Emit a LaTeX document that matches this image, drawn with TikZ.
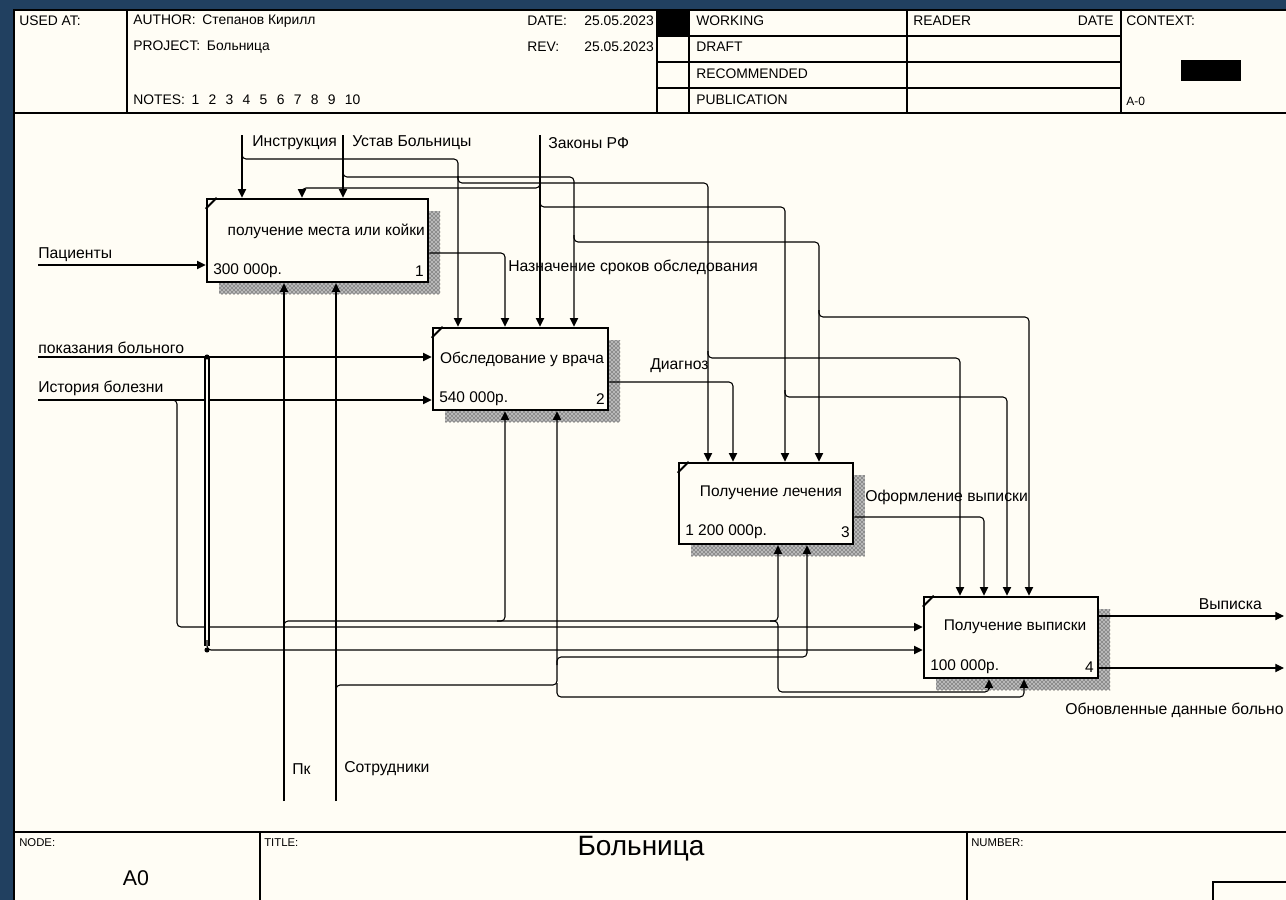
\documentclass[tikz,border=0pt]{standalone}
\usepackage{fontspec}
\setmainfont{Liberation Sans}
\usetikzlibrary{arrows.meta,calc,patterns}
\definecolor{bgblue}{RGB}{33,64,96}
\definecolor{paper}{RGB}{255,253,245}
\def\px{0.75pt}
\newcommand\ngap{\hspace{7pt}}
\begin{document}
\begin{tikzpicture}[x=0.75pt,y=-0.75pt,
  conn/.style={line width=0.8pt, rounded corners=3pt},
  arr/.style={-{Triangle[length=6.5pt,width=6.2pt]}},
  pbox/.style={draw, line width=1.9pt, fill=paper, inner sep=0, rectangle},
  shadbase/.style={fill=black!28},
  shad/.style={pattern=crosshatch dots, pattern color=black},
  lbl/.style={font=\fontsize{11.8}{13}\selectfont, inner sep=0, anchor=west},
  btxt/.style={font=\fontsize{11.6}{13}\selectfont, inner sep=0},
  hdr/.style={font=\fontsize{10.4}{12}\selectfont, inner sep=0, anchor=west},
  small/.style={font=\fontsize{8.5}{10}\selectfont, inner sep=0, anchor=west},
  hline/.style={line width=0.8pt},
  dbl/.style={double=paper, double distance=0.8pt, line width=1.5pt},
  dot/.style={circle, fill, inner sep=0, minimum size=3.8pt},
  cmark/.style={line width=1.5pt}
]
\useasboundingbox (0,0) rectangle (1286,900);
\fill[bgblue] (0,0) rectangle (1286,900);
\fill[paper] (14,10) rectangle (1295,905);

% ---------- header ----------
\draw[hline] (14,10) rectangle (1295,113);
\draw[hline] (127,10) -- (127,113);
\draw[hline] (657,10) -- (657,113);
\draw[hline] (689,10) -- (689,113);
\draw[hline] (907,10) -- (907,113);
\draw[hline] (1121,10) -- (1121,113);
\draw[hline] (657,36) -- (1121,36);
\draw[hline] (657,62) -- (1121,62);
\draw[hline] (657,88) -- (1121,88);
\fill (657,10) rectangle (689,36);
\fill (1181,60) rectangle (1241,81);

\node[hdr] (usedat) at (19,21) {USED AT:};
\node[hdr] (author) at (133,21) {AUTHOR:\hspace{5pt}Степанов Кирилл};
\node[hdr] (project) at (133,47) {PROJECT:\hspace{5pt}Больница};
\node[hdr] (notes) at (133,100) {NOTES:\hspace{5pt}1\ngap 2\ngap 3\ngap 4\ngap 5\ngap 6\ngap 7\ngap 8\ngap 9\ngap 10};
\node[hdr] (date) at (527,21) {DATE:};
\node[hdr, anchor=east] (dateval) at (654,21) {25.05.2023};
\node[hdr] (rev) at (527,47) {REV:};
\node[hdr, anchor=east] (revval) at (654,47) {25.05.2023};
\node[hdr] (working) at (696,21) {WORKING};
\node[hdr] (draft) at (696,47) {DRAFT};
\node[hdr] (recom) at (696,74) {RECOMMENDED};
\node[hdr] (publ) at (696,100) {PUBLICATION};
\node[hdr] (reader) at (913,21) {READER};
\node[hdr, anchor=east] (rdate) at (1114,21) {DATE};
\node[hdr] (context) at (1126,21) {CONTEXT:};
\node[hdr, font=\fontsize{9}{10}\selectfont] (azero) at (1126,101) {A-0};

% ---------- frame & footer ----------
\draw[hline] (14,113) -- (14,832);
\draw[hline] (14,832) rectangle (1295,905);
\draw[hline] (260,832) -- (260,905);
\draw[hline] (967,832) -- (967,905);
\draw[hline] (1213,882) rectangle (1295,905);
\node[small] (nodelbl) at (19,843) {NODE:};
\node[small] (titlelbl) at (264,843) {TITLE:};
\node[small] (numlbl) at (971,843) {NUMBER:};
\node[font=\fontsize{16}{18}\selectfont, inner sep=0] (nodeval) at (136,878) {A0};
\node[font=\fontsize{21}{24}\selectfont, inner sep=0] (title) at (641,849) {Больница};

% ---------- shadows ----------
\foreach \sa/\sb in {{219,211}/{440,294},{445,340}/{620,422},{691,475}/{865,556},{936,609}/{1110,690}}{
  \fill[shadbase] (\sa) rectangle (\sb);
  \fill[shad] (\sa) rectangle (\sb);
}

% ---------- boxes ----------
\node[pbox, minimum width=221*\px, minimum height=83*\px] (b1) at (317.5,240.5) {};
\node[pbox, minimum width=175*\px, minimum height=82*\px] (b2) at (520.5,369) {};
\node[pbox, minimum width=174*\px, minimum height=81*\px] (b3) at (766,503.5) {};
\node[pbox, minimum width=174*\px, minimum height=81*\px] (b4) at (1011,637.5) {};
\foreach \b in {b1,b2,b3,b4}{
  \draw[cmark] ($(\b.north west)+(0,11)$) -- ($(\b.north west)+(11,0)$);
}

\node[btxt, anchor=east] (b1t) at (425,231) {получение места или койки};
\node[btxt, anchor=west] (b1c) at (213,271) {300 000р.};
\node[btxt, anchor=east] (b1n) at (424,271) {1};
\node[btxt] (b2t) at (522,359) {Обследование у врача};
\node[btxt, anchor=west] (b2c) at (439,399) {540 000р.};
\node[btxt, anchor=east] (b2n) at (605,399) {2};
\node[btxt] (b3t) at (771,493) {Получение лечения};
\node[btxt, anchor=west] (b3c) at (685,532) {1 200 000р.};
\node[btxt, anchor=east] (b3n) at (850,532) {3};
\node[btxt] (b4t) at (1015,627) {Получение выписки};
\node[btxt, anchor=west] (b4c) at (930,667) {100 000р.};
\node[btxt, anchor=east] (b4n) at (1094,667) {4};

% ---------- free ends ----------
\coordinate (i0) at (242,135);
\coordinate (u0) at (343,135);
\coordinate (z0) at (540,135);
\coordinate (p0) at (38,265);
\coordinate (k0) at (38,357);
\coordinate (h0) at (38,400);
\coordinate (m1) at (284,801);
\coordinate (m2) at (336,801);
\coordinate (o1) at (1284,616);
\coordinate (o2) at (1284,668);

% ---------- labels ----------
\node[lbl] (lInstr) at (252,143) {Инструкция};
\node[lbl] (lUstav) at (352,143) {Устав Больницы};
\node[lbl] (lZak) at (548,143) {Законы РФ};
\node[lbl] (lPac) at (38,255) {Пациенты};
\node[lbl] (lPok) at (38,348) {показания больного};
\node[lbl] (lIst) at (38,388) {История болезни};
\node[lbl] (lNazn) at (508,267) {Назначение сроков обследования};
\node[lbl] (lDiag) at (650,366) {Диагноз};
\node[lbl] (lOform) at (865,497) {Оформление выписки};
\node[lbl, anchor=east] (lVyp) at (1262,604) {Выписка};
\node[lbl] (lObn) at (1065,710) {Обновленные данные больно};
\node[lbl] (lPk) at (292,769) {Пк};
\node[lbl] (lSotr) at (344,769) {Сотрудники};

% ---------- controls ----------
% Инструкция
\draw[conn,arr] (i0) -- (i0 |- b1.north);
\draw[conn,arr] (242,150) -- (242,159) -- (458,159) -- (458,0 |- b2.north);
\draw[conn,arr] (458,176) -- (458,183) -- (708,183) -- (708,0 |- b3.north);
\draw[conn,arr] (708,351) -- (708,358) -- (960,358) -- (960,0 |- b4.north);
% Устав Больницы
\draw[conn,arr] (u0) -- (u0 |- b1.north);
\draw[conn,arr] (343,170) -- (343,177) -- (574,177) -- (574,0 |- b2.north);
\draw[conn,arr] (574,235) -- (574,242) -- (819,242) -- (819,0 |- b3.north);
\draw[conn,arr] (819,310) -- (819,317) -- (1029,317) -- (1029,0 |- b4.north);
% Законы РФ
\draw[conn,arr] (z0) -- (z0 |- b2.north);
\draw[conn] (540,180) -- (540,188) -- (302,188) -- (302,192);
\draw[conn,arr] (302,189) -- (302,0 |- b1.north);
\draw[conn,arr] (540,200) -- (540,207) -- (785,207) -- (785,0 |- b3.north);
\draw[conn,arr] (785,390) -- (785,397) -- (1007,397) -- (1007,0 |- b4.north);

% ---------- outputs ----------
\draw[conn,arr] (b1.east |- 0,253) -- (505,253) -- (505,0 |- b2.north);
\draw[conn,arr] (b2.east |- 0,382) -- (733,382) -- (733,0 |- b3.north);
\draw[conn,arr] (b3.east |- 0,517) -- (984,517) -- (984,0 |- b4.north);
\draw[conn,arr] (b4.east |- 0,616) -- (o1);
\draw[conn,arr] (b4.east |- 0,668) -- (o2);

% ---------- inputs ----------
\draw[conn,arr] (p0) -- (p0 -| b1.west);
\draw[conn,arr] (k0) -- (k0 -| b2.west);
\draw[conn,arr] (h0) -- (h0 -| b2.west);
\draw[conn,arr] (170,400) -- (177,400) -- (177,627) -- (b4.west |- 0,627);
\draw[dbl] (207,357) -- (207,646);
\draw[conn,arr] (207,640) -- (207,650) -- (b4.west |- 0,650);
\node[dot] (dtop) at (207,357) {};
\node[dot] (dbot) at (207,650) {};

% ---------- mechanisms ----------
\draw[conn,arr] (m1) -- (m1 |- b1.south);
\draw[conn,arr] (m2) -- (m2 |- b1.south);
\draw[conn,arr] (284,630) -- (284,621) -- (778,621) -- (778,0 |- b3.south);
\draw[conn] (770,621) -- (778,621) -- (778,692) -- (989,692) -- (989,686);
\draw[conn,arr] (989,688) -- (989,0 |- b4.south);
\draw[conn,arr] (497,621) -- (505,621) -- (505,0 |- b2.south);
\draw[conn,arr] (336,693) -- (336,685) -- (557,685) -- (557,0 |- b2.south);
\draw[conn,arr] (557,665) -- (557,657) -- (807,657) -- (807,0 |- b3.south);
\draw[conn,arr] (557,683) -- (557,697) -- (1024,697) -- (1024,0 |- b4.south);
\end{tikzpicture}
\end{document}
